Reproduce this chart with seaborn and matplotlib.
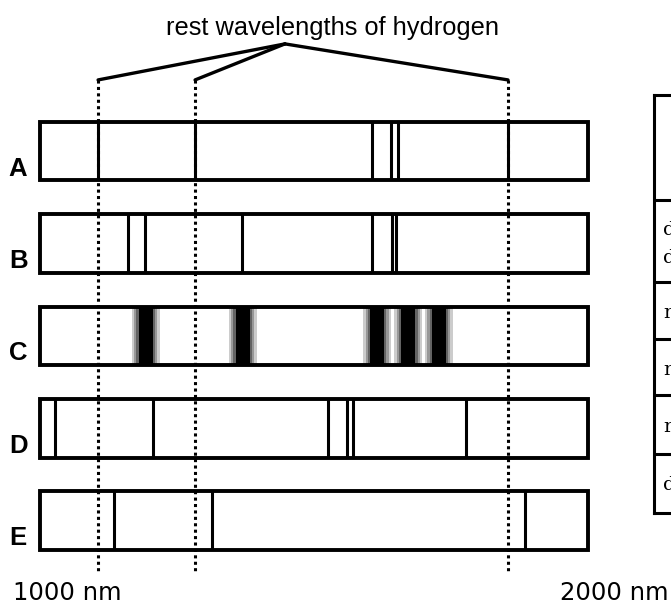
import numpy as np
import pandas as pd
import matplotlib
matplotlib.use("Agg")
import matplotlib.pyplot as plt
import seaborn as sns

# spectra A-E, wavelengths (nm)
spectra = ["A", "B", "C", "D", "E"]
range_nm = [1000, 2000]
rest_nm = [1106, 1283, 1854]
lines_nm = {
    "A": [1106, 1283, 1606, 1641, 1653, 1854],
    "B": [1161, 1192, 1369, 1606, 1642, 1649],
    "D": [1027, 1207, 1526, 1560, 1572, 1777],
    "E": [1135, 1313, 1885],
}
bands_c = [1193, 1370, 1615, 1672, 1728]
table_words = ["d", "d", "n", "n", "r", "d"]

# layout (offset nm on x, spectrum row on y)
BAR_H = 0.634
DOT_TOP, DOT_BOT = -0.77, 4.56
APEX = (447, -1.16)

sns.set_style("white")
plt.rcParams["font.family"] = ["Liberation Sans", "DejaVu Sans"]
plt.rcParams["text.color"] = "black"

fig = plt.figure(figsize=(6.71, 6.09), dpi=100)
ax = fig.add_axes([0, 0, 1, 1])

lo, hi = range_nm
frame = pd.DataFrame({"spectrum": spectra, "span": [hi - lo] * len(spectra)})
sns.barplot(data=frame, x="span", y="spectrum", orient="h", color="black",
            fill=False, linewidth=2.8, width=BAR_H, errorbar=None, ax=ax)

# rest wavelengths, dotted
ax.vlines(np.array(rest_nm) - lo, DOT_TOP, DOT_BOT, colors="black",
          linestyles=(0, (1, 1.1)), lw=2.2, zorder=1)

# sharp lines
for name, nm in lines_nm.items():
    row = spectra.index(name)
    ax.vlines(np.array(nm) - lo, row - BAR_H / 2, row + BAR_H / 2,
              colors="black", lw=2.2)

# blurred bands in C
row = spectra.index("C")
for w, a in [(52, 0.2), (42, 0.25), (34, 0.35), (26, 1.0)]:
    ax.bar(np.array(bands_c) - lo, BAR_H, width=w, bottom=row - BAR_H / 2,
           color="black", alpha=a, lw=0)

# label connecting to the rest lines
for r in rest_nm:
    ax.plot([APEX[0], r - lo], [APEX[1], DOT_TOP], color="black", lw=2.4,
            solid_capstyle="round")
ax.text(533, -1.33, "rest wavelengths of hydrogen", ha="center", va="center",
        fontsize=18.3)

for i, s in enumerate(spectra):
    ax.text(-40, i + 0.265, s, ha="center", va="baseline", fontsize=18.5,
            fontweight="bold")

ax.text(13 / 671, 1 - 600 / 609, f"{lo} nm", transform=ax.transAxes,
        ha="left", va="baseline", fontsize=17.5, family="DejaVu Sans")
ax.text(668 / 671, 1 - 600 / 609, f"{hi} nm", transform=ax.transAxes,
        ha="right", va="baseline", fontsize=17.5, family="DejaVu Sans")

ax.set_xlim(-73, 1151.5)
ax.set_ylim(4.956, -1.635)
ax.axis("off")

# cropped table on the right edge
tax = fig.add_axes([654 / 671, 1 - 513 / 609, 0.2, 418 / 609])
tax.set_xlim(0, 1)
tax.set_ylim(513, 95)
tax.set_xticks([])
tax.set_yticks([])
for sp in tax.spines.values():
    sp.set_linewidth(2.2)
    sp.set_color("black")
tax.hlines([200, 282, 339, 395, 454], 0, 1, colors="black", lw=2.2)
for word, y in zip(table_words, [230, 258, 313, 370, 427, 485]):
    tax.text(0.067, y, word, ha="left", va="center", fontsize=14,
             family="DejaVu Serif")

fig.savefig("out.png", dpi=100)
